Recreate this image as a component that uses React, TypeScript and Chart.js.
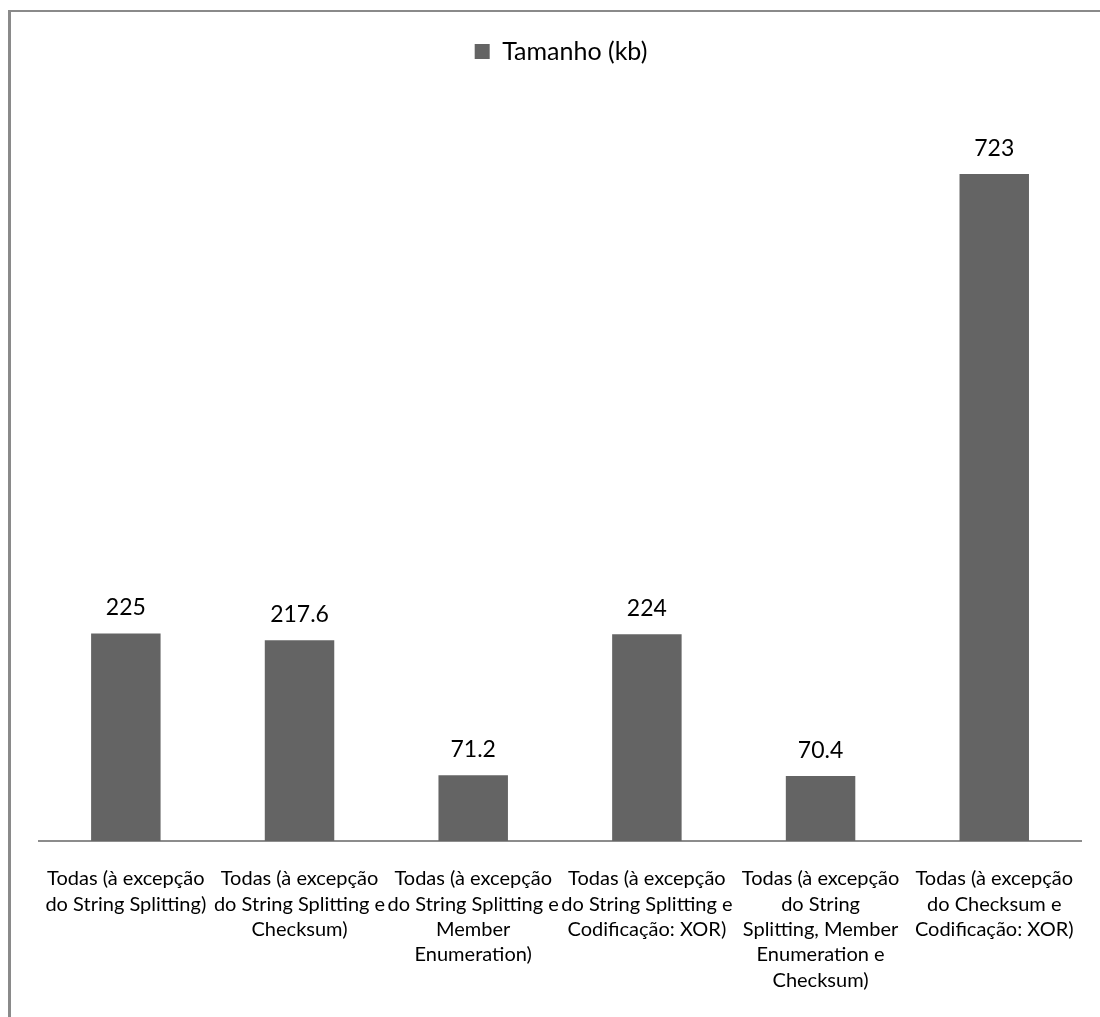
import React, { useEffect, useRef } from "react";
import { Chart, registerables } from "chart.js";

Chart.register(...registerables);

// Categories (tick labels, pre-wrapped into lines)
const categoryLabels: string[][] = [
  ["Todas (à excepção", "do String Splitting)"],
  ["Todas (à excepção", "do String Splitting e", "Checksum)"],
  ["Todas (à excepção", "do String Splitting e", "Member", "Enumeration)"],
  ["Todas (à excepção", "do String Splitting e", "Codificação: XOR)"],
  ["Todas (à excepção", "do String", "Splitting, Member", "Enumeration e", "Checksum)"],
  ["Todas (à excepção", "do Checksum e", "Codificação: XOR)"],
];

const seriesName = "Tamanho (kb)";
const sizeKb: number[] = [225, 217.6, 71.2, 224, 70.4, 723];

const BAR_COLOR = "#646464";
const FONT = "Lato, 'Open Sans', sans-serif";

// Draws each bar's value just above it
const valueLabels = {
  id: "valueLabels",
  afterDatasetsDraw(chart: any) {
    const { ctx } = chart;
    const meta = chart.getDatasetMeta(0);
    const data = chart.data.datasets[0].data as number[];
    ctx.save();
    ctx.font = `23px ${FONT}`;
    ctx.fillStyle = "#000";
    ctx.textAlign = "center";
    ctx.textBaseline = "alphabetic";
    meta.data.forEach((bar: any, i: number) => {
      ctx.fillText(String(data[i]), bar.x, bar.y - 18);
    });
    ctx.restore();
  },
};

// Adds space below the legend so the plot starts lower
const legendGap = {
  id: "legendGap",
  beforeInit(chart: any) {
    const legend = chart.legend;
    if (!legend) return;
    const fit = legend.fit;
    legend.fit = function () {
      fit.call(this);
      this.height += 29;
    };
  },
};

export default function App() {
  const canvasRef = useRef<HTMLCanvasElement | null>(null);

  useEffect(() => {
    if (!canvasRef.current) return;
    const chart = new Chart(canvasRef.current, {
      type: "bar",
      data: {
        labels: categoryLabels,
        datasets: [
          {
            label: seriesName,
            data: sizeKb,
            backgroundColor: BAR_COLOR,
            borderWidth: 0,
            barPercentage: 0.4,
            categoryPercentage: 1,
          },
        ],
      },
      plugins: [legendGap, valueLabels],
      options: {
        responsive: false,
        animation: false,
        layout: { padding: { left: 28, right: 17, top: 17, bottom: 0 } },
        plugins: {
          legend: {
            position: "top",
            labels: {
              boxWidth: 15,
              boxHeight: 15,
              color: "#000",
              font: { family: FONT, size: 25 },
            },
          },
          tooltip: { enabled: false },
        },
        scales: {
          x: {
            grid: { display: false, drawTicks: false },
            border: { display: true, color: "#8c8c8c", width: 2 },
            ticks: {
              color: "#000",
              padding: 25,
              maxRotation: 0,
              autoSkip: false,
              font: { family: FONT, size: 20, lineHeight: 1.27 },
            },
            afterFit(scale: any) {
              scale.height = 176;
            },
          },
          y: {
            display: false,
            min: 0,
            max: 800,
          },
        },
      },
    });
    return () => chart.destroy();
  }, []);

  return (
    <div
      style={{
        position: "absolute",
        left: 8,
        top: 10,
        width: 1089,
        height: 1005,
        borderLeft: "3px solid #8a8a8a",
        borderTop: "2px solid #8a8a8a",
        background: "#fff",
      }}
    >
      <canvas ref={canvasRef} width={1089} height={1005} style={{ display: "block" }} />
    </div>
  );
}
